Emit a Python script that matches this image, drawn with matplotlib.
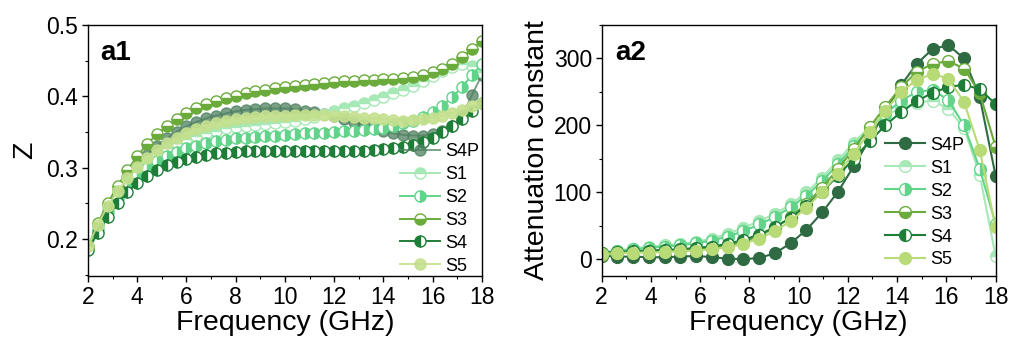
import numpy as np
import matplotlib
matplotlib.use("Agg")
import matplotlib.pyplot as plt
from matplotlib.ticker import MultipleLocator

plt.rcParams['font.family'] = ['Liberation Sans', 'DejaVu Sans']

series = ["S4P", "S1", "S2", "S3", "S4", "S5"]

# ---- panel a1: Z ----
freq_a1 = np.linspace(2, 18, 41)
z_S4P = [0.190, 0.220, 0.246, 0.268, 0.287, 0.304, 0.318, 0.331, 0.341, 0.350, 0.358, 0.364, 0.369, 0.373,
         0.376, 0.379, 0.381, 0.382, 0.383, 0.383, 0.383, 0.382, 0.380, 0.378, 0.375, 0.372, 0.368, 0.364,
         0.360, 0.356, 0.352, 0.348, 0.346, 0.345, 0.345, 0.347, 0.351, 0.359, 0.373, 0.402, 0.430]
z_S1 = [0.190, 0.218, 0.243, 0.264, 0.282, 0.297, 0.309, 0.319, 0.327, 0.334, 0.340, 0.345, 0.349, 0.352,
        0.355, 0.357, 0.359, 0.360, 0.361, 0.362, 0.364, 0.366, 0.368, 0.371, 0.375, 0.379, 0.383, 0.387,
        0.391, 0.395, 0.399, 0.404, 0.409, 0.415, 0.421, 0.428, 0.435, 0.441, 0.445, 0.443, 0.434]
z_S2 = [0.188, 0.213, 0.238, 0.258, 0.275, 0.289, 0.300, 0.309, 0.316, 0.322, 0.327, 0.331, 0.334, 0.337,
        0.339, 0.341, 0.342, 0.343, 0.344, 0.345, 0.346, 0.347, 0.348, 0.348, 0.349, 0.350, 0.351, 0.352,
        0.353, 0.354, 0.356, 0.359, 0.362, 0.366, 0.371, 0.378, 0.387, 0.399, 0.413, 0.430, 0.445]
z_S3 = [0.188, 0.222, 0.250, 0.274, 0.296, 0.316, 0.333, 0.347, 0.358, 0.368, 0.376, 0.383, 0.389, 0.394,
        0.398, 0.401, 0.404, 0.407, 0.409, 0.411, 0.413, 0.414, 0.416, 0.417, 0.419, 0.420, 0.421, 0.422,
        0.423, 0.423, 0.424, 0.424, 0.425, 0.427, 0.430, 0.434, 0.439, 0.446, 0.455, 0.466, 0.478]
z_S4 = [0.185, 0.208, 0.231, 0.250, 0.266, 0.278, 0.288, 0.296, 0.303, 0.308, 0.312, 0.315, 0.318, 0.320,
        0.321, 0.322, 0.323, 0.323, 0.324, 0.324, 0.324, 0.324, 0.324, 0.324, 0.324, 0.324, 0.324, 0.324,
        0.324, 0.325, 0.326, 0.327, 0.329, 0.332, 0.336, 0.342, 0.350, 0.358, 0.368, 0.379, 0.390]
z_S5 = [0.190, 0.220, 0.246, 0.267, 0.285, 0.301, 0.314, 0.325, 0.334, 0.342, 0.349, 0.354, 0.358, 0.362,
        0.365, 0.368, 0.370, 0.371, 0.372, 0.373, 0.373, 0.374, 0.374, 0.374, 0.374, 0.373, 0.372, 0.371,
        0.370, 0.369, 0.368, 0.367, 0.366, 0.367, 0.368, 0.370, 0.373, 0.377, 0.381, 0.386, 0.390]

# ---- panel a2: attenuation constant ----
freq_a2 = np.linspace(2, 18, 26)
a_S4P = [5, 4, 4, 3, 3, 4, 5, 3, 1, 0, 2, 9, 24, 44, 70, 101, 139, 179, 221, 260, 292, 314, 320, 300, 242, 125]
a_S1 = [10, 13, 16, 19, 21, 23, 26, 31, 38, 47, 57, 68, 82, 100, 122, 148, 174, 198, 215, 226, 234, 237, 225, 196, 126, 5]
a_S2 = [9, 12, 15, 17, 19, 21, 24, 28, 34, 42, 52, 63, 78, 95, 117, 142, 169, 195, 217, 237, 250, 253, 238, 200, 135, 53]
a_S3 = [7, 9, 10, 12, 13, 14, 15, 17, 20, 26, 35, 47, 63, 83, 107, 135, 165, 197, 228, 257, 280, 292, 296, 285, 248, 168]
a_S4 = [10, 11, 12, 13, 14, 15, 17, 19, 23, 29, 37, 48, 62, 80, 101, 125, 150, 176, 200, 220, 236, 249, 257, 261, 254, 232]
a_S5 = [8, 9, 10, 10, 11, 12, 13, 15, 18, 23, 31, 42, 57, 77, 101, 128, 158, 190, 222, 250, 268, 277, 270, 235, 163, 48]

z_data = [z_S4P, z_S1, z_S2, z_S3, z_S4, z_S5]
a_data = [a_S4P, a_S1, a_S2, a_S3, a_S4, a_S5]

colors_a1 = ["#4f8060", "#a6e8b6", "#62d48a", "#6aab3c", "#1e7e38", "#c4e08e"]
colors_a2 = ["#2f6b42", "#a6e8b6", "#62d48a", "#6aab3c", "#1e7e38", "#b8db78"]
alphas_a1 = [0.75, 1, 1, 1, 1, 0.9]
fills = ["full", "top", "right", "bottom", "left", "full"]

fig = plt.figure(figsize=(10.10, 3.45), dpi=100)
ax1 = fig.add_axes([0.0871, 0.2, 0.390, 0.7275])
ax2 = fig.add_axes([0.5957, 0.2, 0.390, 0.7275])

for i, name in enumerate(series):
    ax1.plot(freq_a1, z_data[i], color=colors_a1[i], lw=1.4, marker='o', ms=8.0,
             fillstyle=fills[i], markerfacecoloralt='white', mec=colors_a1[i], mew=1.0,
             alpha=alphas_a1[i], label=name)
    ax2.plot(freq_a2, a_data[i], color=colors_a2[i], lw=1.5, marker='o', ms=8.5,
             fillstyle=fills[i], markerfacecoloralt='white', mec=colors_a2[i], mew=1.0,
             label=name)

ax1.set_xlim(2, 18)
ax1.set_ylim(0.148, 0.5)
ax1.xaxis.set_major_locator(MultipleLocator(2))
ax1.xaxis.set_minor_locator(MultipleLocator(1))
ax1.set_yticks([0.2, 0.3, 0.4, 0.5])
ax1.yaxis.set_minor_locator(MultipleLocator(0.05))
ax1.set_xlabel("Frequency (GHz)", fontsize=20.5, labelpad=1)
ax1.set_ylabel("Z", fontsize=20.5, labelpad=6)
ax1.text(0.03, 0.89, "a1", transform=ax1.transAxes, fontsize=20, fontweight='bold', va='center')

ax2.set_xlim(2, 18)
ax2.set_ylim(-25, 350)
ax2.xaxis.set_major_locator(MultipleLocator(2))
ax2.xaxis.set_minor_locator(MultipleLocator(1))
ax2.set_yticks([0, 100, 200, 300])
ax2.yaxis.set_minor_locator(MultipleLocator(50))
ax2.set_xlabel("Frequency (GHz)", fontsize=20.5, labelpad=1)
ax2.set_ylabel("Attenuation constant", fontsize=20.5, labelpad=3)
ax2.text(0.034, 0.89, "a2", transform=ax2.transAxes, fontsize=20, fontweight='bold', va='center')

for ax in (ax1, ax2):
    ax.tick_params(which='major', direction='out', length=4, width=1.0, labelsize=16.5, pad=3)
    ax.tick_params(which='minor', direction='out', length=2.5, width=0.8)
    for sp in ax.spines.values():
        sp.set_linewidth(1.0)

ax1.legend(loc='upper left', bbox_to_anchor=(0.792, 0.53), frameon=False, fontsize=13,
           handlelength=2.2, labelspacing=0.33, handletextpad=0.3, borderaxespad=0, borderpad=0)
ax2.legend(loc='upper left', bbox_to_anchor=(0.719, 0.555), frameon=False, fontsize=13,
           handlelength=2.2, labelspacing=0.33, handletextpad=0.3, borderaxespad=0, borderpad=0)

fig.savefig("out.png", dpi=100)
